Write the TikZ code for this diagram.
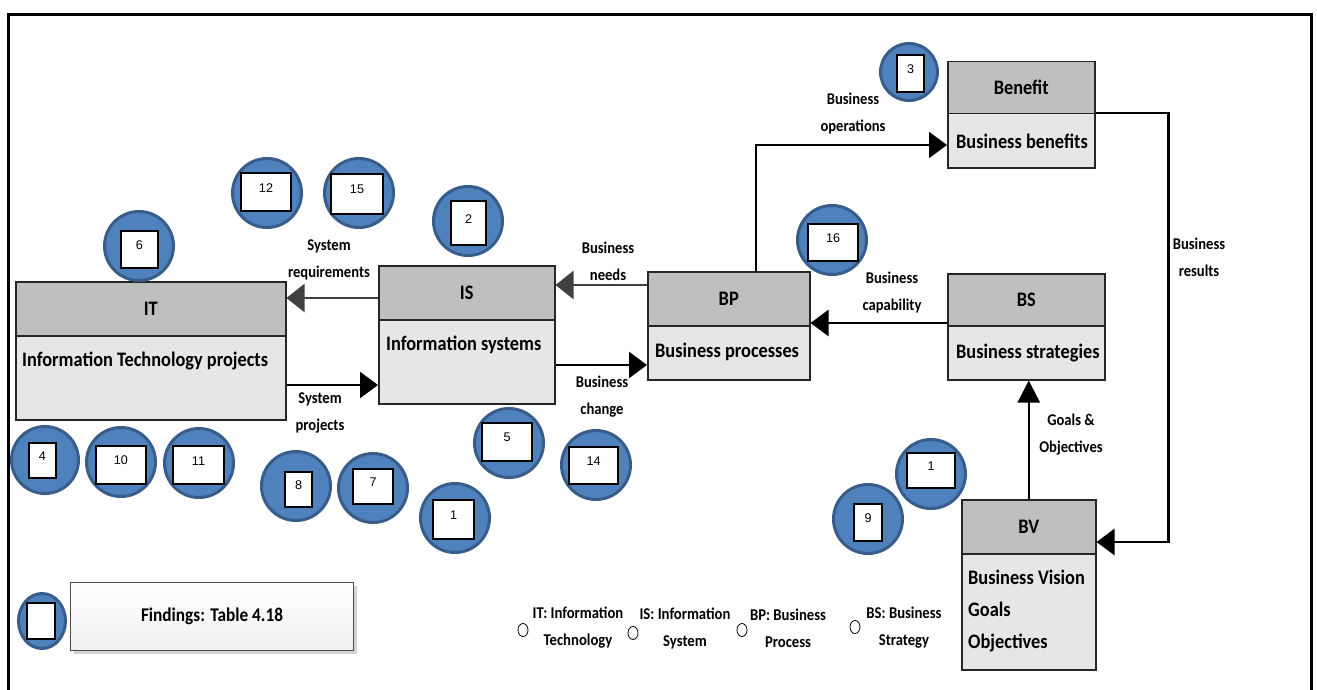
\documentclass[tikz,border=0pt]{standalone}
\usepackage{fontspec}
\setmainfont{Carlito}[FakeStretch=0.89]
\newfontfamily\numfont{Liberation Sans}
\usetikzlibrary{arrows.meta,shadows,fit,shapes.geometric}

\definecolor{badgeblue}{HTML}{4F81BD}
\definecolor{badgeedge}{HTML}{385D8A}
\definecolor{hdrgray}{HTML}{BFBFBF}
\definecolor{bodygray}{HTML}{E6E6E6}
\definecolor{boxline}{HTML}{262626}
\definecolor{arrowgray}{HTML}{404040}

% one numbered badge: name, centre, diameter, box corners, number
\newcommand\numbadge[6]{%
  \node[badge, minimum size=#3] (#1) at #2 {};
  \node[numbox, fit={#4 #5}] (#1n) {#6};
}

\begin{document}
\begin{tikzpicture}[x=1pt,y=-1pt,
  hdr/.style={draw=boxline, fill=hdrgray, line width=1.5pt, inner sep=0pt,
    anchor=north west, font=\fontsize{20.6}{22}\selectfont\bfseries},
  bodybox/.style={draw=boxline, fill=bodygray, line width=1.5pt, inner sep=0pt,
    anchor=north west},
  btxt/.style={anchor=west, inner sep=0pt, align=left,
    font=\fontsize{20.6}{32}\selectfont\bfseries},
  lbl/.style={align=center, inner sep=0pt,
    font=\fontsize{16.4}{27}\selectfont\bfseries},
  flow/.style={draw=black, line width=2.5pt, -{Triangle[length=18pt,width=26pt]}},
  flowgray/.style={flow, draw=arrowgray, -{Triangle[length=18pt,width=28pt,fill=arrowgray]}},
  badge/.style={circle, fill=badgeblue, draw=badgeedge, line width=3pt, inner sep=0pt},
  numbox/.style={draw=black, fill=white, line width=1.5pt, inner sep=0pt,
    font=\numfont\fontsize{12.6}{14}\selectfont},
  legdot/.style={ellipse, draw=black, line width=0.8pt, fill=white,
    minimum width=10pt, minimum height=13pt, inner sep=0pt},
  legtxt/.style={align=center, inner sep=0pt,
    font=\fontsize{16.5}{27}\selectfont\bfseries}
]
\useasboundingbox (0,0) rectangle (1317,690);

% outer frame
\draw[line width=3pt] (8.5,690) -- (8.5,14.5) -- (1311.5,14.5) -- (1311.5,690);

% ---- two-part boxes ----
\node[hdr, minimum width=270pt, minimum height=54pt] (ITh) at (15,281) {IT};
\node[bodybox, minimum width=270pt, minimum height=84pt] (ITb) at (15,335) {};
\node[btxt] at (22,361) {Information Technology projects};

\node[hdr, minimum width=176pt, minimum height=54pt] (ISh) at (378,265) {IS};
\node[bodybox, minimum width=176pt, minimum height=84pt] (ISb) at (378,319) {};
\node[btxt] at (386,345) {Information systems};

\node[hdr, minimum width=162pt, minimum height=54pt] (BPh) at (647,271) {BP};
\node[bodybox, minimum width=162pt, minimum height=54pt] (BPb) at (647,325) {};
\node[btxt] at (655,352) {Business processes};

\node[hdr, minimum width=147pt, minimum height=52pt] (Benh) at (947,61) {Benefit};
\node[bodybox, minimum width=147pt, minimum height=54pt] (Benb) at (947,113) {};
\node[btxt] at (956,141) {Business benefits};

\node[hdr, minimum width=157pt, minimum height=52pt] (BSh) at (947,273) {BS};
\node[bodybox, minimum width=157pt, minimum height=54pt] (BSb) at (947,325) {};
\node[btxt] at (956,353) {Business strategies};

\node[hdr, minimum width=134pt, minimum height=54pt] (BVh) at (961,499) {BV};
\node[bodybox, minimum width=134pt, minimum height=116pt] (BVb) at (961,553) {};
\node[btxt] at (968,611) {Business Vision\\Goals\\Objectives};

% ---- connectors ----
\draw[flowgray] (ISh.west |- 0,298) -- (ITh.east |- 0,298);
\draw[flow] (ITb.east |- 0,385) -- (ISb.west |- 0,385);
\draw[flowgray] (BPh.west |- 0,285) -- (ISh.east |- 0,285);
\draw[flow] (ISb.east |- 0,365) -- (BPb.west |- 0,365);
\draw[flow] (BSh.west |- 0,323) -- (BPh.east |- 0,323);
\draw[flow, line width=2pt] (BPh.north -| 756,0) |- (Benb.west |- 0,145);
\draw[flow] (Benb.north east) -- ++(73,0) |- (BVh.east |- 0,542);
\draw[flow, -{Triangle[length=22pt,width=22pt]}] (BVh.north) -- (BVh.north |- BSb.south);

% ---- connector labels ----
\node[lbl] at (329,260) {System\\requirements};
\node[lbl] at (320,413) {System\\projects};
\node[lbl] at (608,261) {Business\\needs};
\node[lbl] at (602,397) {Business\\change};
\node[lbl] at (853,114) {Business\\operations};
\node[lbl] at (892,293) {Business\\capability};
\node[lbl] at (1199,257) {Business\\results};
\node[lbl] at (1071,435) {Goals \&\\Objectives};

% ---- numbered badges ----
\numbadge{b12}{(267,193)}{69pt}{(241,173)}{(291,211)}{12}
\numbadge{b15}{(359,193)}{69pt}{(331,174)}{(383,214)}{15}
\numbadge{b6}{(139,246)}{69pt}{(121,231)}{(158,268)}{6}
\numbadge{b4}{(45,460)}{67pt}{(29,443)}{(56,478)}{4}
\numbadge{b10}{(121,462)}{69pt}{(96,446)}{(146,484)}{10}
\numbadge{b11}{(199,463)}{69pt}{(173,446)}{(224,484)}{11}
\numbadge{b8}{(296,486)}{69pt}{(285,472)}{(312,507)}{8}
\numbadge{b7}{(373,488)}{69pt}{(353,469)}{(393,504)}{7}
\numbadge{b2}{(468,221)}{69pt}{(451,201)}{(486,245)}{2}
\numbadge{b5}{(509,443)}{69pt}{(482,423)}{(532,461)}{5}
\numbadge{b14}{(596,465)}{69pt}{(569,447)}{(618,484)}{14}
\numbadge{b1a}{(455,518)}{69pt}{(433,500)}{(474,539)}{1}
\numbadge{b16}{(832,240)}{69pt}{(808,224)}{(858,261)}{16}
\numbadge{b3}{(909,72)}{57pt}{(897,55)}{(924,92)}{3}
\numbadge{b1b}{(931,474)}{69pt}{(907,453)}{(955,488)}{1}
\numbadge{b9}{(868,519)}{69pt}{(854,504)}{(882,541)}{9}

% ---- key ----
\node[ellipse, fill=badgeblue, draw=badgeedge, line width=3pt, inner sep=0pt,
  minimum width=47pt, minimum height=55pt] (keyb) at (42,621) {};
\node[numbox, fit={(27,603) (55,639)}] (keybn) {};
\node[draw=gray!60!black, line width=1pt, top color=white, bottom color=gray!12,
  drop shadow={shadow xshift=3pt, shadow yshift=-3pt, opacity=0.35},
  minimum width=283pt, minimum height=68pt, anchor=north west,
  font=\fontsize{19.4}{20}\selectfont\bfseries] (find) at (70,582) {Findings: Table 4.18};

\node[legdot] (d1) at (523,630) {};
\node[legtxt] (t1) at (578,628) {IT: Information\\Technology};
\node[legdot] (d2) at (633,633) {};
\node[legtxt] (t2) at (685,628) {IS: Information\\System};
\node[legdot] (d3) at (742,630) {};
\node[legtxt] (t3) at (788,628) {BP: Business\\Process};
\node[legdot] (d4) at (855,627) {};
\node[legtxt] (t4) at (904,628) {BS: Business\\Strategy};
\end{tikzpicture}
\end{document}
